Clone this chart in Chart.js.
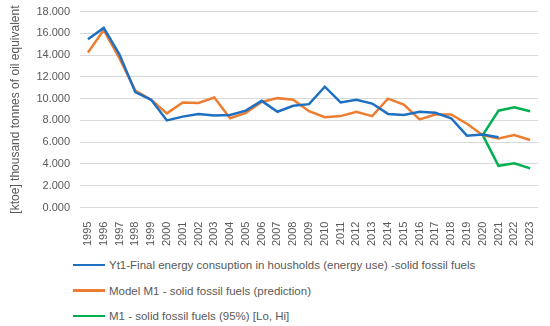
<!DOCTYPE html>
<html lang="en">
<head>
    <meta charset="utf-8">
    <script src="https://cdn.jsdelivr.net/npm/chart.js@4.4.1/dist/chart.umd.min.js"></script>
    <title>solid fossil fuels</title>
    <style>
        body { margin: 0; background: #fff; }
        #wrap { position: relative; width: 550px; height: 326px; overflow: hidden; }
        #box { position: absolute; left: 0; top: -5px; width: 550px; height: 257px; }
        #legend { position: absolute; left: 73px; top: 252px; font: 11.5px "Liberation Sans", Arial, sans-serif; color: #595959; }
        #legend div { height: 25.7px; display: flex; align-items: center; white-space: nowrap; }
        #legend span.ln { display: inline-block; width: 32px; height: 2.5px; margin-right: 4px; }
    </style>
</head>
<body>
<div id="wrap">
    <div id="box"><canvas id="chart"></canvas></div>
    <div id="legend"></div>
</div>
<script type="text/javascript">
    // years on the x axis
    var years = ['1995','1996','1997','1998','1999','2000','2001','2002','2003','2004',
                 '2005','2006','2007','2008','2009','2010','2011','2012','2013','2014',
                 '2015','2016','2017','2018','2019','2020','2021','2022','2023'];
    // actual use (ktoe), ends in 2021
    var actual = [15450, 16500, 14050, 10600, 9900, 8000, 8350, 8600, 8450, 8500,
                  8900, 9800, 8800, 9350, 9500, 11100, 9650, 9900, 9550, 8600,
                  8500, 8800, 8700, 8200, 6600, 6700, 6450, null, null];
    // model M1 prediction
    var model = [14250, 16300, 13700, 10750, 9900, 8650, 9650, 9600, 10100, 8200,
                 8700, 9700, 10050, 9900, 8850, 8300, 8400, 8800, 8400, 10000,
                 9450, 8100, 8550, 8550, 7700, 6650, 6350, 6650, 6200];
    // 95% bounds, start at the 2020 value
    var hi = [null,null,null,null,null,null,null,null,null,null,null,null,null,null,null,
              null,null,null,null,null,null,null,null,null,null, 6650, 8900, 9200, 8850];
    var lo = [null,null,null,null,null,null,null,null,null,null,null,null,null,null,null,
              null,null,null,null,null,null,null,null,null,null, 6650, 3830, 4070, 3600];
    var yTicks = [0, 2000, 4000, 6000, 8000, 10000, 12000, 14000, 16000, 18000];

    var grey = '#595959';
    var font = { family: '"Liberation Sans", Arial, sans-serif', size: 11 };

    function line(label, data, color) {
        return { label: label, data: data, borderColor: color, backgroundColor: color,
                 borderWidth: 2.5, pointRadius: 0, tension: 0, spanGaps: false };
    }

    var ctx = document.getElementById('chart');
    var myChart = new Chart(ctx, {
        type: 'line',
        data: {
            labels: years,
            datasets: [
                line('Yt1-Final energy consuption in housholds (energy use) -solid fossil fuels', actual, '#1F70C1'),
                line('Model M1 - solid fossil fuels (prediction)', model, '#ED7D31'),
                line('M1 - solid fossil fuels (95%) [Lo, Hi]', hi, '#00B050'),
                line('lo', lo, '#00B050'),
            ],
        },
        options: {
            responsive: true,
            maintainAspectRatio: false,
            animation: false,
            layout: { padding: { left: 8, right: 12, top: 0, bottom: 0 } },
            plugins: {
                legend: { display: false },
                tooltip: { enabled: false },
            },
            scales: {
                x: {
                    offset: true,
                    grid: { display: false },
                    border: { display: false },
                    ticks: { color: grey, font: font, minRotation: 90, maxRotation: 90, autoSkip: false, padding: 6 },
                },
                y: {
                    min: 0, max: 18000,
                    afterBuildTicks: function (s) { s.ticks = yTicks.map(function (v) { return { value: v }; }); },
                    grid: { color: '#D9D9D9', lineWidth: 1, drawTicks: false },
                    border: { display: false },
                    ticks: { color: grey, font: font, padding: 10,
                             callback: function (v) { return (v / 1000).toFixed(3); } },
                    title: { display: true, text: '[ktoe] thousand tonnes of oil equivalent',
                             color: grey, font: { family: font.family, size: 12 }, padding: { top: 0, bottom: 4 } },
                },
            },
        },
    });

    // legend in three rows below the chart
    var items = myChart.data.datasets.slice(0, 3);
    var html = '';
    items.forEach(function (d) {
        html += '<div><span class="ln" style="background:' + d.borderColor + '"></span>' + d.label + '</div>';
    });
    document.getElementById('legend').innerHTML = html;
</script>
</body>
</html>
